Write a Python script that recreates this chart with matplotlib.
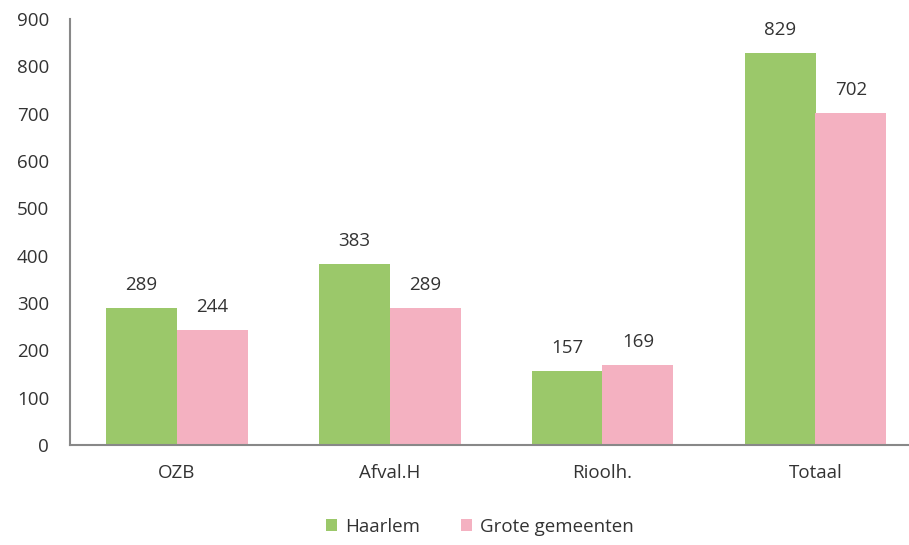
import numpy as np
import matplotlib.pyplot as plt

categories = ["OZB", "Afval.H", "Rioolh.", "Totaal"]
haarlem = [289, 383, 157, 829]
grote = [244, 289, 169, 702]

plt.rcParams['font.family'] = ['Open Sans', 'DejaVu Sans']

fig = plt.figure(figsize=(9.09, 5.45), dpi=100)
ax = fig.add_axes([70 / 909, 100 / 545, 852 / 909, 426 / 545])

x = np.arange(len(categories))
w = 1 / 3
green = "#9BC86A"
pink = "#F4B1C1"
b1 = ax.bar(x - w / 2, haarlem, w, color=green, label="Haarlem")
b2 = ax.bar(x + w / 2, grote, w, color=pink, label="Grote gemeenten")

for bars in (b1, b2):
    for r in bars:
        ax.annotate(f"{int(r.get_height())}", (r.get_x() + r.get_width() / 2, r.get_height()),
                    xytext=(0, 10), textcoords="offset points", ha="center", va="bottom",
                    fontsize=13.5, color="#333333")

ax.set_xlim(-0.5, 3.5)
ax.set_ylim(0, 900)
ax.set_yticks(range(0, 901, 100))
ax.set_xticks(x)
ax.set_xticklabels(categories)
ax.tick_params(axis="both", length=0, labelsize=13.5, colors="#333333")
ax.tick_params(axis="x", pad=14)
ax.tick_params(axis="y", pad=15)
for s in ("top", "right"):
    ax.spines[s].set_visible(False)
for s in ("left", "bottom"):
    ax.spines[s].set_color("#888888")
    ax.spines[s].set_linewidth(1.5)

fig.legend(handles=[b1, b2], loc="center", bbox_to_anchor=(480 / 909, 1 - 527 / 545),
           ncol=2, frameon=False, fontsize=13.5, handlelength=0.6, handleheight=0.6,
           handletextpad=0.4, columnspacing=2.2, labelcolor="#333333")

fig.savefig("out.png", dpi=100)
